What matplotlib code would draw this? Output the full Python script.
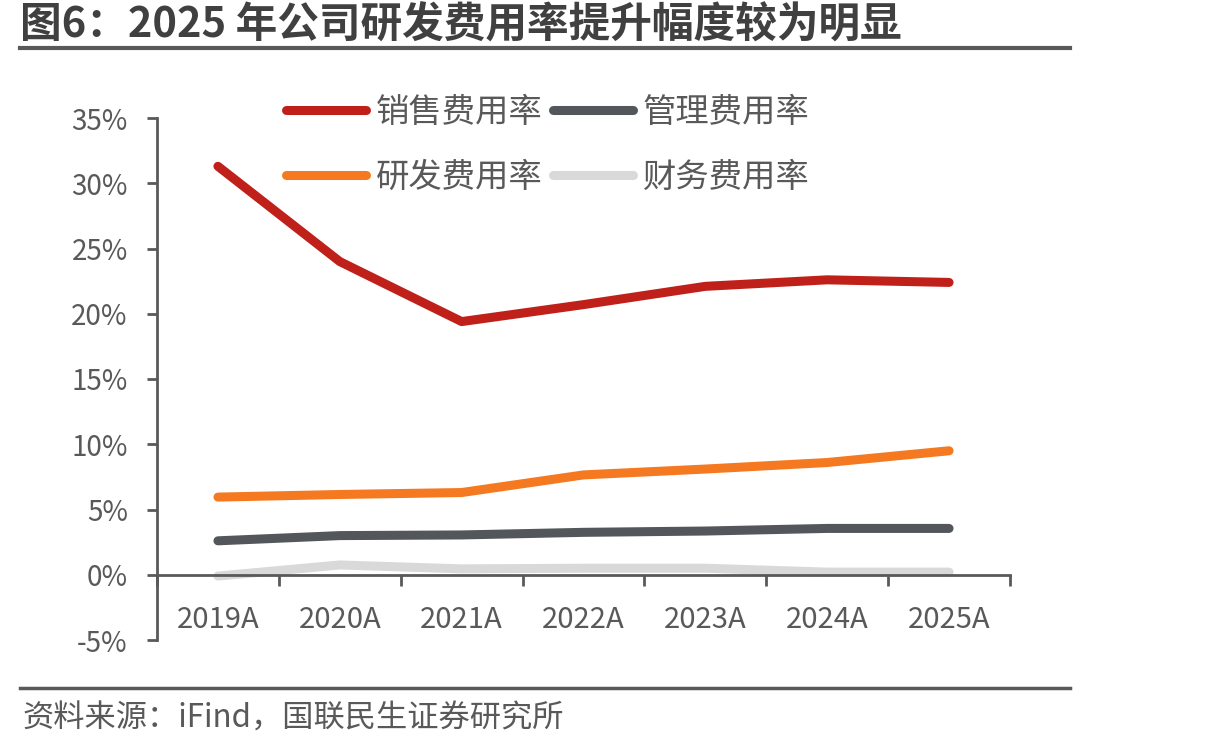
import numpy as np
import matplotlib
matplotlib.use("Agg")
import matplotlib.pyplot as plt
from matplotlib.lines import Line2D

plt.rcParams['font.family'] = ['Noto Sans CJK SC', 'DejaVu Sans']

# data (percent)
years = ["2019A", "2020A", "2021A", "2022A", "2023A", "2024A", "2025A"]
sales_rate = [31.3, 24.0, 19.4, 20.7, 22.1, 22.6, 22.4]
admin_rate = [2.6, 3.0, 3.05, 3.25, 3.35, 3.55, 3.55]
rd_rate = [5.95, 6.15, 6.3, 7.65, 8.1, 8.6, 9.5]
fin_rate = [-0.1, 0.75, 0.45, 0.5, 0.5, 0.2, 0.2]
yticks = [-5, 0, 5, 10, 15, 20, 25, 30, 35]

gray = '#595959'

fig = plt.figure(figsize=(12.17, 7.49), dpi=100)
ax = fig.add_axes([157 / 1217, 1 - 640 / 749, (1010 - 157) / 1217, (640 - 118) / 749])

x = np.arange(len(years))
lw = 6.5
l_sales, = ax.plot(x, sales_rate, color='#C0201A', lw=lw, solid_capstyle='round', label='销售费用率')
l_admin, = ax.plot(x, admin_rate, color='#53565A', lw=lw, solid_capstyle='round', label='管理费用率')
l_rd, = ax.plot(x, rd_rate, color='#F47920', lw=lw, solid_capstyle='round', label='研发费用率')
l_fin, = ax.plot(x, fin_rate, color='#D9D9D9', lw=lw, solid_capstyle='round', label='财务费用率')

ax.set_xlim(-0.5, len(years) - 0.5)
ax.set_ylim(-5, 35)
ax.set_yticks(yticks)
ax.set_yticklabels([f"{v}%" for v in yticks])

ax.set_xticks(x)
ax.set_xticklabels(years)
ax.set_xticks(np.arange(-0.5, len(years)), minor=True)

for s in ['top', 'right']:
    ax.spines[s].set_visible(False)
ax.spines['bottom'].set_position(('data', 0))
for s in ['left', 'bottom']:
    ax.spines[s].set_color(gray)
    ax.spines[s].set_linewidth(2)

ax.tick_params(axis='y', direction='out', length=7, width=2, color=gray,
               labelcolor=gray, labelsize=20, pad=14)
ax.tick_params(axis='x', which='major', length=0, labelcolor=gray, labelsize=21, pad=22)
ax.tick_params(axis='x', which='minor', direction='out', length=8, width=2, color=gray)

leg = fig.legend(handles=[l_sales, l_rd, l_admin, l_fin], ncol=2, frameon=False,
                 loc='upper left', bbox_to_anchor=(286 / 1217, 1 - 95 / 749),
                 fontsize=24, handlelength=2.4, handletextpad=0.3,
                 columnspacing=0.3, labelspacing=0.9, borderpad=0, borderaxespad=0)
for t in leg.get_texts():
    t.set_color(gray)

# title and rules
fig.text(20 / 1217, 1 - 26 / 749, "图6：2025 年公司研发费用率提升幅度较为明显",
         fontsize=30, fontweight='bold', color='#404040', va='center', ha='left')
fig.add_artist(Line2D([20 / 1217, 1070 / 1217], [1 - 48 / 749, 1 - 48 / 749],
                      color='#595959', lw=3))
fig.add_artist(Line2D([20 / 1217, 1070 / 1217], [1 - 688 / 749, 1 - 688 / 749],
                      color='#595959', lw=2.5))
fig.text(22 / 1217, 1 - 719 / 749, "资料来源：iFind，国联民生证券研究所",
         fontsize=22.5, color=gray, va='center', ha='left')

fig.savefig("out.png", dpi=100)
